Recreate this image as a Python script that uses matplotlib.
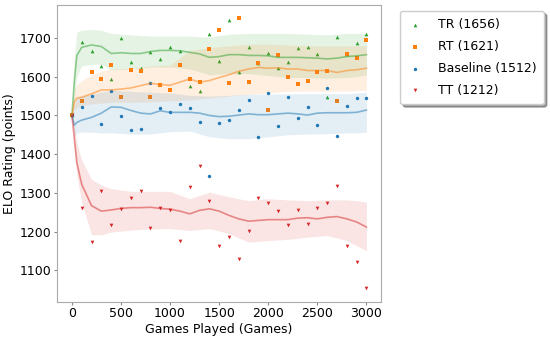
import numpy as np
from matplotlib import pyplot as plt

# games at which each rating was sampled
games = list(range(0, 3001, 100))

tr_points = [1500, 1690, 1667, 1628, 1594, 1700, 1637, 1622, 1663, 1647, 1678,
             1667, 1576, 1564, 1710, 1641, 1747, 1613, 1678, 1636, 1661,
             1622, 1637, 1674, 1676, 1658, 1547, 1703, 1659, 1688, 1711]
rt_points = [1500, 1537, 1613, 1593, 1631, 1548, 1618, 1615, 1548, 1579, 1565,
             1631, 1595, 1587, 1671, 1721, 1584, 1751, 1587, 1636, 1513,
             1657, 1600, 1582, 1588, 1612, 1614, 1538, 1659, 1648, 1696]
base_points = [1500, 1521, 1551, 1478, 1563, 1498, 1462, 1464, 1585, 1518, 1509,
               1530, 1518, 1484, 1343, 1480, 1488, 1513, 1540, 1444, 1558,
               1473, 1548, 1494, 1521, 1475, 1571, 1447, 1525, 1546, 1545]
tt_points = [1500, 1260, 1174, 1305, 1218, 1259, 1287, 1306, 1209, 1261, 1256,
             1177, 1316, 1370, 1280, 1164, 1187, 1130, 1201, 1288, 1274,
             1253, 1218, 1256, 1220, 1262, 1274, 1317, 1164, 1122, 1054]

# smoothed trend lines
line_games = [0, 25, 50] + list(range(100, 3001, 100))
tr_line = [1500, 1590, 1655, 1676, 1682, 1678, 1660, 1662, 1660, 1660, 1665,
           1668, 1668, 1667, 1663, 1659, 1650, 1652, 1657, 1657, 1655, 1655,
           1654, 1650, 1650, 1650, 1649, 1648, 1646, 1648, 1652, 1654, 1657]
rt_line = [1500, 1535, 1545, 1547, 1556, 1566, 1566, 1568, 1571, 1577, 1583,
           1580, 1578, 1586, 1594, 1586, 1590, 1598, 1605, 1614, 1620, 1624,
           1622, 1623, 1620, 1620, 1616, 1616, 1616, 1611, 1616, 1618, 1622]
base_line = [1500, 1475, 1482, 1488, 1495, 1506, 1522, 1521, 1513, 1506, 1504,
             1512, 1508, 1508, 1508, 1506, 1500, 1497, 1498, 1501, 1504, 1502,
             1502, 1504, 1506, 1504, 1501, 1506, 1507, 1507, 1507, 1508, 1514]
tt_line = [1500, 1440, 1378, 1322, 1267, 1253, 1256, 1260, 1262, 1262, 1263,
           1260, 1258, 1253, 1246, 1255, 1259, 1253, 1242, 1233, 1227, 1229,
           1231, 1231, 1231, 1235, 1236, 1233, 1237, 1239, 1233, 1225, 1212]

# confidence bands
band_games = [0, 25, 50, 100, 200, 300, 400, 600, 800, 1000, 1200, 1400,
              1600, 1800, 2000, 2200, 2400, 2600, 2800, 2900, 3000]
tr_lo = [1500, 1540, 1600, 1628, 1632, 1632, 1618, 1620, 1625, 1625, 1620,
         1605, 1608, 1608, 1603, 1598, 1598, 1596, 1598, 1600, 1605]
tr_hi = [1500, 1650, 1715, 1720, 1722, 1720, 1712, 1708, 1705, 1705, 1705,
         1702, 1710, 1712, 1712, 1712, 1710, 1708, 1712, 1712, 1712]
rt_lo = [1500, 1515, 1520, 1525, 1530, 1532, 1534, 1534, 1535, 1538, 1540,
         1545, 1550, 1555, 1558, 1562, 1563, 1563, 1563, 1564, 1565]
rt_hi = [1500, 1565, 1580, 1590, 1605, 1615, 1620, 1622, 1628, 1630, 1668,
         1675, 1680, 1684, 1684, 1682, 1680, 1680, 1680, 1680, 1680]
base_lo = [1500, 1445, 1455, 1457, 1457, 1455, 1455, 1452, 1452, 1458, 1460,
           1445, 1440, 1440, 1445, 1450, 1452, 1453, 1455, 1455, 1457]
base_hi = [1500, 1530, 1545, 1550, 1555, 1560, 1565, 1562, 1560, 1558, 1552,
           1550, 1552, 1555, 1555, 1556, 1556, 1556, 1556, 1558, 1560]
tt_lo = [1500, 1415, 1345, 1275, 1192, 1192, 1199, 1204, 1207, 1208, 1203,
         1208, 1195, 1173, 1177, 1180, 1186, 1190, 1177, 1164, 1151]
tt_hi = [1500, 1470, 1430, 1384, 1335, 1320, 1311, 1304, 1304, 1304, 1285,
         1302, 1290, 1280, 1285, 1282, 1280, 1282, 1282, 1280, 1276]

series = [
    ('TR (1656)', tr_points, tr_line, tr_lo, tr_hi, '#2ca02c', '^', 7),
    ('RT (1621)', rt_points, rt_line, rt_lo, rt_hi, '#ff7f0e', 's', 5),
    ('Baseline (1512)', base_points, base_line, base_lo, base_hi, '#1f77b4', 'o', 6),
    ('TT (1212)', tt_points, tt_line, tt_lo, tt_hi, '#d62728', 'v', 7),
]

fig = plt.figure(figsize=(5.5, 3.39), dpi=100)
ax = fig.add_axes([0.104, 0.110, 0.589, 0.876])

for label, pts, line, lo, hi, color, marker, size in series:
    ax.fill_between(band_games, lo, hi, color=color, alpha=0.12, linewidth=0)
    ax.plot(line_games, line, color=color, alpha=0.5, linewidth=1.2)
    ax.scatter(games, pts, color=color, marker=marker, s=size, label=label,
               linewidths=0)

ax.set_xlabel('Games Played (Games)', fontsize=9, labelpad=2)
ax.set_ylabel('ELO Rating (points)', fontsize=9, labelpad=3)
ax.tick_params(labelsize=9, length=2, pad=2, color='#888888')
for spine in ax.spines.values():
    spine.set_color('#aaaaaa')

ax.legend(bbox_to_anchor=(1.04, 1), loc='upper left', fontsize=9,
          shadow=True, labelspacing=0.7, borderpad=0.6,
          handlelength=1.2, handletextpad=1.2)

plt.savefig('out.png', dpi=100)
